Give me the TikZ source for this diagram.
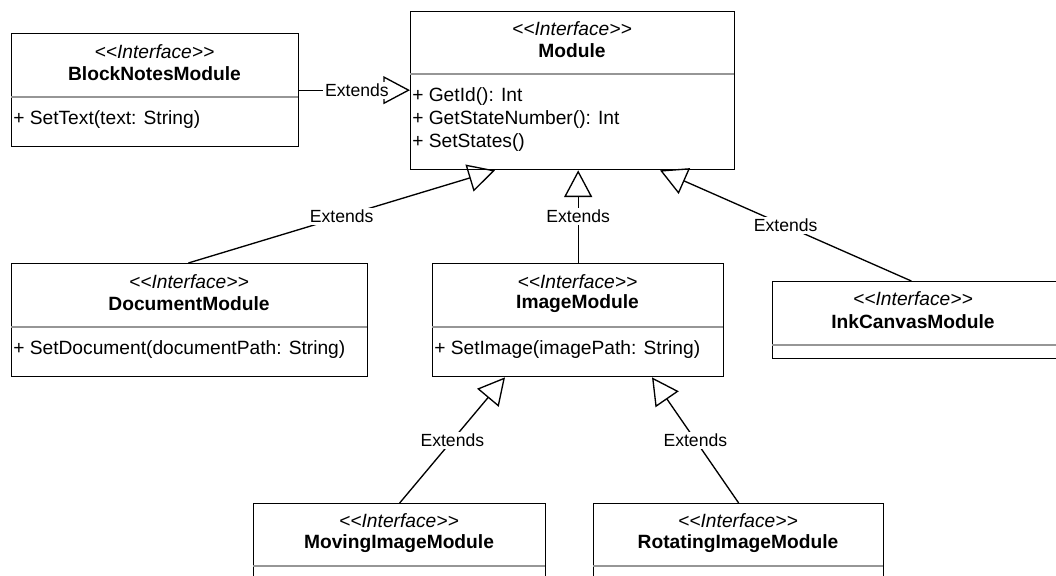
\documentclass[tikz,border=0pt]{standalone}
\usepackage{fontspec}
\setmainfont{Liberation Sans}
\usetikzlibrary{arrows.meta}
\definecolor{divc}{RGB}{150,150,150}
\newcommand{\stereotxt}{<\kern0pt<Interface>\kern0pt>}
\begin{document}
\begin{tikzpicture}[x=0.75pt,y=-0.75pt,
  every node/.style={font=\fontsize{14.4pt}{17pt}\selectfont},
  cls/.style={draw, line width=1pt, anchor=north west, inner sep=0pt, minimum height=84.75pt},
  divider/.style={draw=divc, line width=1pt},
  stereo/.style={font=\fontsize{14.4pt}{17pt}\selectfont\itshape, inner sep=0pt},
  cname/.style={font=\fontsize{14.4pt}{17pt}\selectfont\bfseries, inner sep=0pt},
  meth/.style={anchor=west, inner sep=0pt},
  ext/.style={line width=1pt, -{Triangle[open, length=20pt, width=21pt]}},
  elabel/.style={fill=white, inner sep=1.5pt, font=\fontsize{13.2pt}{15pt}\selectfont}
]
\useasboundingbox (0,0) rectangle (1056,575);
\clip (0,0) rectangle (1056,575);

% BlockNotesModule
\node[cls, minimum width=215.25pt] (bn) at (11,33) {};
\draw[divider] (11,97) -- (298,97);
\node[stereo] (bnS) at (154.5,52) {\stereotxt};
\node[cname] (bnN) at (154.5,74) {BlockNotesModule};
\node[meth] (bnM1) at (13,119.5) {+ SetText(text: String)};

% Module
\node[cls, minimum width=243pt, minimum height=118.5pt] (mod) at (410,11) {};
\draw[divider] (410,74) -- (734,74);
\node[stereo] (modS) at (572,29) {\stereotxt};
\node[cname] (modN) at (572,51) {Module};
\node[meth] (modM1) at (412,97) {+ GetId(): Int};
\node[meth] (modM2) at (412,120) {+ GetStateNumber(): Int};
\node[meth] (modM3) at (412,143) {+ SetStates()};

% DocumentModule
\node[cls, minimum width=267pt] (doc) at (11,263) {};
\draw[divider] (11,327) -- (367,327);
\node[stereo] (docS) at (189,282) {\stereotxt};
\node[cname] (docN) at (189,304) {DocumentModule};
\node[meth] (docM1) at (13,350) {+ SetDocument(documentPath: String)};

% ImageModule
\node[cls, minimum width=218.25pt] (img) at (432,263) {};
\draw[divider] (432,327) -- (723,327);
\node[stereo] (imgS) at (577.5,282) {\stereotxt};
\node[cname] (imgN) at (577.5,304) {ImageModule};
\node[meth] (imgM1) at (434,350) {+ SetImage(imagePath: String)};

% InkCanvasModule
\node[cls, minimum width=216pt, minimum height=57.75pt] (ink) at (772,281) {};
\draw[divider] (772,345) -- (1060,345);
\node[stereo] (inkS) at (913,299) {\stereotxt};
\node[cname] (inkN) at (913,322) {InkCanvasModule};

% MovingImageModule
\node[cls, minimum width=219pt] (mov) at (253,503) {};
\draw[divider] (253,566) -- (545,566);
\node[stereo] (movS) at (399,521) {\stereotxt};
\node[cname] (movN) at (399,544) {MovingImageModule};

% RotatingImageModule
\node[cls, minimum width=217.5pt] (rot) at (593,503) {};
\draw[divider] (593,566) -- (883,566);
\node[stereo] (rotS) at (738,521) {\stereotxt};
\node[cname] (rotN) at (738,544) {RotatingImageModule};

% Connectors
\draw[ext] (bn.east) -- (bn.east -| mod.west) node[elabel, pos=0.52] {Extends};
\draw[ext] ([xshift=-1pt]doc.north) -- ([xshift=63.75pt]mod.south west) node[elabel, midway] {Extends};
\draw[ext] (img.north) -- (img.north |- mod.south) node[elabel, midway] {Extends};
\draw[ext] ([xshift=-4pt]ink.north) -- ([xshift=187.5pt]mod.south west) node[elabel, midway] {Extends};
\draw[ext] (mov.north) -- ([xshift=54.75pt]img.south west) node[elabel, midway] {Extends};
\draw[ext] (rot.north) -- ([xshift=165pt]img.south west) node[elabel, midway] {Extends};
\end{tikzpicture}
\end{document}
